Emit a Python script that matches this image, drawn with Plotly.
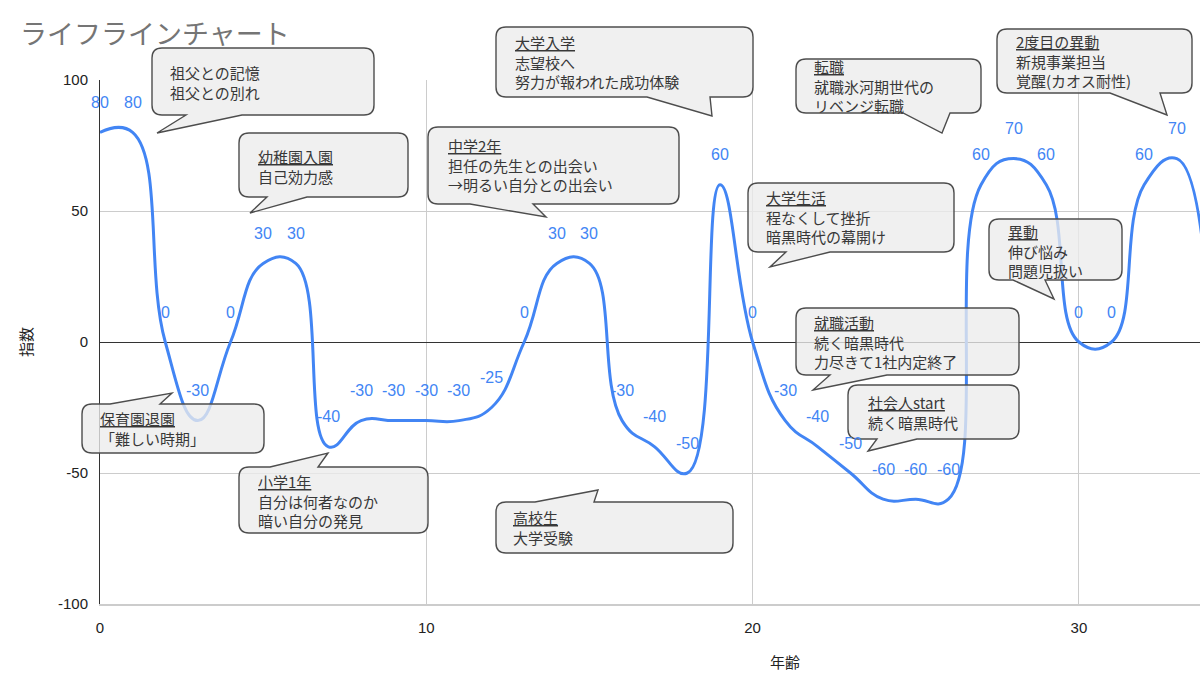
import plotly.graph_objects as go

# ---------------- data ----------------
ages = list(range(0, 35))
values = [80, 80, 0, -30, 0, 30, 30, -40, -30, -30, -30, -30, -25, 0, 30, 30,
          -30, -40, -50, 60, 0, -30, -40, -50, -60, -60, -60, 60, 70, 60, 0, 0,
          60, 70, 5]

x_ticks = [0, 10, 20, 30]
y_ticks = [-100, -50, 0, 50, 100]

title_text = "ライフラインチャート"
x_title = "年齢"
y_title = "指数"

# callout texts (first line underlined where flagged)
callout_lines = [
    ["祖父との記憶", "祖父との別れ"],
    ["幼稚園入園", "自己効力感"],
    ["大学入学", "志望校へ", "努力が報われた成功体験"],
    ["中学2年", "担任の先生との出会い", "→明るい自分との出会い"],
    ["転職", "就職氷河期世代の", "リベンジ転職"],
    ["2度目の異動", "新規事業担当", "覚醒(カオス耐性)"],
    ["大学生活", "程なくして挫折", "暗黒時代の幕開け"],
    ["異動", "伸び悩み", "問題児扱い"],
    ["就職活動", "続く暗黒時代", "力尽きて1社内定終了"],
    ["社会人start", "続く暗黒時代"],
    ["保育園退園", "「難しい時期」"],
    ["小学1年", "自分は何者なのか", "暗い自分の発見"],
    ["高校生", "大学受験"],
]
callout_underline = [False, True, True, True, True, True, True, True, True,
                     True, True, True, True]

# ---------------- layout geometry (pixels) ----------------
W, H = 1200, 687
L, T, R, B = 100, 80, 1200, 604
PW, PH = R - L, B - T

callout_geom = [
    dict(box=(152, 48, 374, 115), tail=("bottom", 186, (157, 133), 242), ys=[73, 92], tx=168),
    dict(box=(239, 133, 408, 197), tail=("bottom", 267, (250, 213), 307), ys=[157, 175], tx=256),
    dict(box=(496, 27, 753, 97), tail=("bottom", 647, (712, 116), 710), ys=[45, 62, 80], tx=513),
    dict(box=(428, 127, 679, 204), tail=("bottom", 470, (546, 217), 533), ys=[146, 165, 184], tx=446),
    dict(box=(796, 59, 981, 113), tail=("bottom", 903, (942, 133), 950), ys=[70, 86, 102], tx=812),
    dict(box=(997, 29, 1192, 93), tail=("bottom", 1110, (1167, 115), 1160), ys=[43, 61, 79], tx=1014),
    dict(box=(748, 183, 954, 252), tail=("bottom", 786, (770, 267), 830), ys=[198, 217, 236], tx=764),
    dict(box=(989, 219, 1122, 280), tail=("bottom", 1013, (1054, 299), 1045), ys=[233, 251, 268], tx=1006),
    dict(box=(796, 308, 1019, 375), tail=("bottom", 830, (813, 390), 887), ys=[323, 342, 360], tx=812),
    dict(box=(848, 385, 1019, 439), tail=("bottom", 877, (868, 451), 917), ys=[403, 421], tx=866),
    dict(box=(82, 404, 264, 453), tail=("top", 110, (172, 393), 160), ys=[419, 438], tx=98),
    dict(box=(239, 467, 428, 533), tail=("top", 270, (328, 453), 318), ys=[483, 501, 520], tx=256),
    dict(box=(496, 502, 733, 553), tail=("top", 535, (598, 490), 594), ys=[518, 537], tx=511),
]


def px(x):
    return (x - L) / PW


def py(y):
    return (B - y) / PH


def P(x, y):
    return f"{px(x):.5f},{py(y):.5f}"


def bubble_path(box, tail, r=10):
    x0, y0, x1, y1 = box
    side, b1, tip, b2 = tail
    bl, br = min(b1, b2), max(b1, b2)
    d = [f"M {P(x0 + r, y0)}"]
    if side == "top":
        d += [f"L {P(bl, y0)}", f"L {P(*tip)}", f"L {P(br, y0)}"]
    d += [f"L {P(x1 - r, y0)}", f"Q {P(x1, y0)} {P(x1, y0 + r)}",
          f"L {P(x1, y1 - r)}", f"Q {P(x1, y1)} {P(x1 - r, y1)}"]
    if side == "bottom":
        d += [f"L {P(br, y1)}", f"L {P(*tip)}", f"L {P(bl, y1)}"]
    d += [f"L {P(x0 + r, y1)}", f"Q {P(x0, y1)} {P(x0, y1 - r)}",
          f"L {P(x0, y0 + r)}", f"Q {P(x0, y0)} {P(x0 + r, y0)}", "Z"]
    return " ".join(d)


BLUE = "#4285f4"
CJK = "Noto Sans CJK JP"
LAT = "Arial, Liberation Sans, sans-serif"

fig = go.Figure()
fig.add_trace(go.Scatter(
    x=ages, y=values, mode="lines",
    line=dict(color=BLUE, width=3, shape="spline", smoothing=1.3),
    hoverinfo="skip", showlegend=False, cliponaxis=True,
))

annotations = []
# data labels
for a, v in zip(ages, values):
    annotations.append(dict(
        x=a, y=v, xref="x", yref="y", text=str(v), showarrow=False,
        yshift=30, xanchor="center", yanchor="middle",
        font=dict(family=LAT, size=16, color=BLUE),
    ))

shapes = []
for lines, ul, g in zip(callout_lines, callout_underline, callout_geom):
    shapes.append(dict(
        type="path", xref="paper", yref="paper",
        path=bubble_path(g["box"], g["tail"]),
        fillcolor="rgba(236,236,236,0.78)",
        line=dict(color="#4d4d4d", width=1.4), layer="above",
    ))
    parts = [f"<u>{t}</u>" if (i == 0 and ul) else t for i, t in enumerate(lines)]
    ymid = sum(g["ys"]) / len(g["ys"])
    annotations.append(dict(
        x=px(g["tx"]), y=py(ymid), xref="paper", yref="paper",
        text="<br>".join(parts), align="left",
        showarrow=False, xanchor="left", yanchor="middle",
        font=dict(family=CJK, size=15, color="#383838"),
    ))

# title and axis titles
annotations.append(dict(
    x=px(18), y=py(32), xref="paper", yref="paper", text=title_text,
    showarrow=False, xanchor="left", yanchor="middle",
    font=dict(family=CJK, size=27, color="#757575"),
))
annotations.append(dict(
    x=px(785), y=py(661), xref="paper", yref="paper", text=x_title,
    showarrow=False, xanchor="center", yanchor="middle",
    font=dict(family=CJK, size=15, color="#222222"),
))
annotations.append(dict(
    x=px(25), y=py(342), xref="paper", yref="paper", text=y_title,
    showarrow=False, xanchor="center", yanchor="middle", textangle=-90,
    font=dict(family=CJK, size=15, color="#222222"),
))

fig.update_layout(
    width=W, height=H, autosize=False,
    margin=dict(l=L, r=W - R, t=T, b=H - B, pad=0),
    plot_bgcolor="white", paper_bgcolor="white",
    shapes=shapes, annotations=annotations,
    xaxis=dict(
        range=[0, PW / 32.63], tickvals=x_ticks, ticktext=[str(t) for t in x_ticks],
        showgrid=True, gridcolor="#cccccc", gridwidth=1,
        zeroline=False, showline=True, linecolor="#cccccc", linewidth=2,
        ticks="", ticklabelstandoff=9,
        tickfont=dict(family=LAT, size=15, color="#222222"),
        fixedrange=True,
    ),
    yaxis=dict(
        range=[-100, 100], tickvals=y_ticks, ticktext=[str(t) for t in y_ticks],
        showgrid=True, gridcolor="#cccccc", gridwidth=1,
        zeroline=True, zerolinecolor="#333333", zerolinewidth=1,
        showline=True, linecolor="#333333", linewidth=1,
        ticks="", ticklabelstandoff=8,
        tickfont=dict(family=LAT, size=15, color="#222222"),
        fixedrange=True,
    ),
)

fig.write_html("out.html")
